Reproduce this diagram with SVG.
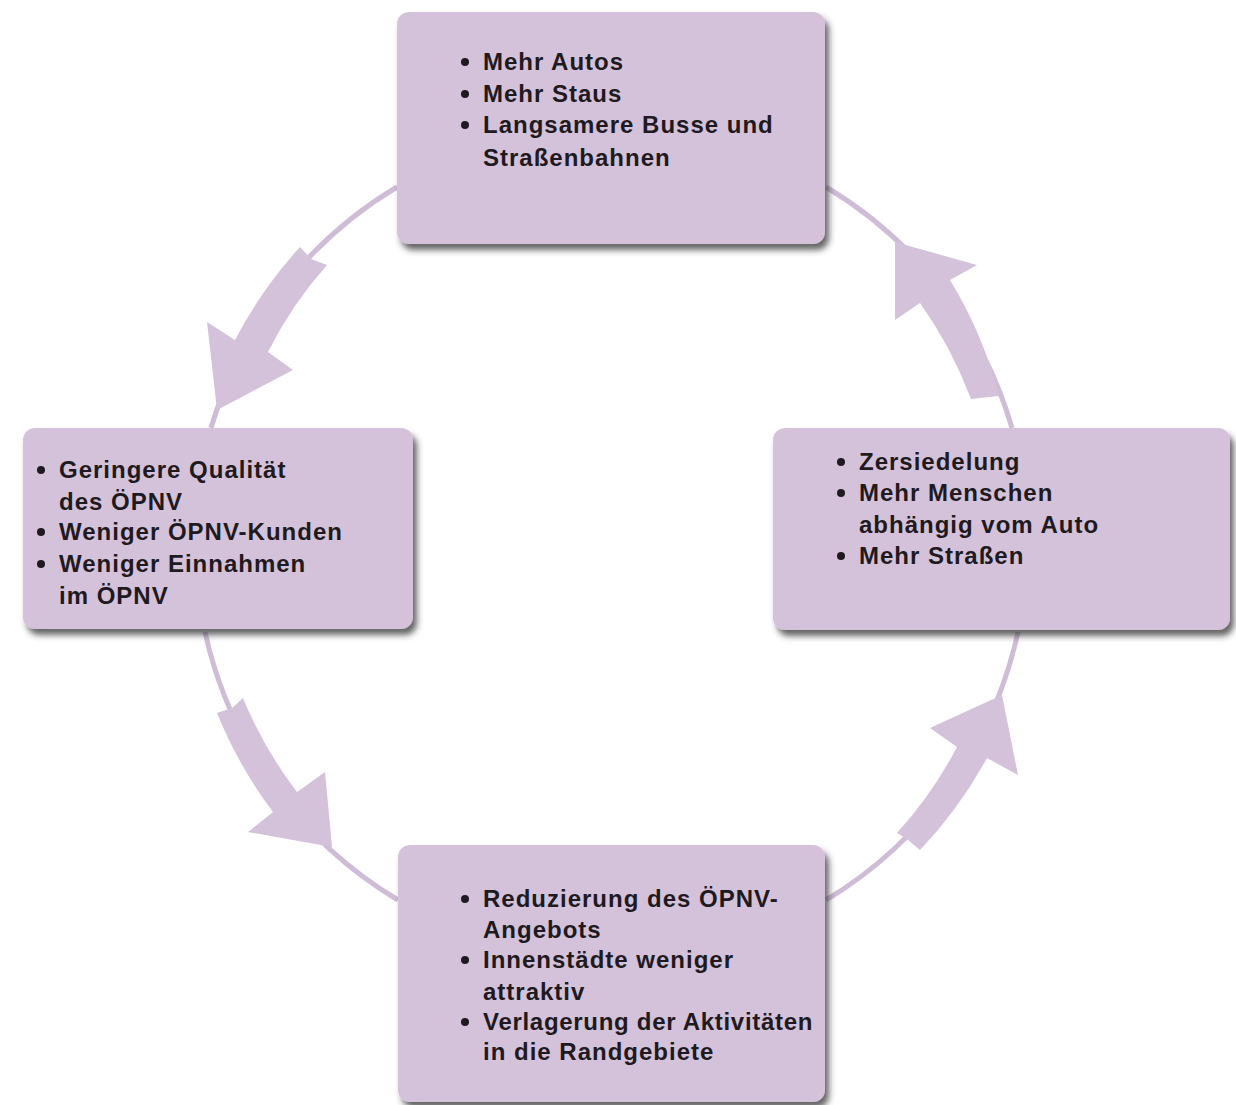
<svg xmlns="http://www.w3.org/2000/svg" width="1236" height="1105" viewBox="0 0 1236 1105">
<style>
.box{fill:#d4c2da;filter:url(#sh)}
.t{font-family:"Liberation Sans",Arial,sans-serif;font-weight:bold;font-size:24px;letter-spacing:1px;fill:#1e1a20}
.b{fill:#1e1a20}
.ln{fill:none;stroke:#cfbcd6;stroke-width:5}
.ar{fill:#d4c2da}
</style>
<defs>
<filter id="sh" x="-10%" y="-10%" width="125%" height="130%">
<feDropShadow dx="4" dy="6" stdDeviation="3" flood-color="#333333" flood-opacity="0.75"/>
</filter>
</defs>
<rect width="1236" height="1105" fill="#ffffff"/>
<g id="connectors">
<path class="ln" d="M 397,187 A 416 416 0 0 0 211,428"/>
<path class="ln" d="M 1012,428 A 416 416 0 0 0 826,187"/>
<path class="ln" d="M 205,632 A 416 416 0 0 0 398,900"/>
<path class="ln" d="M 826,900 A 416 416 0 0 0 1018,632"/>
<path class="ar" d="M 300,247 Q 261.5,289.2 235,340 L 207,322 L 217,410 L 293,370 L 268,352 Q 291.9,304.3 327,265 L 311,259 Z"/>
<path class="ar" d="M 971,399 Q 951,346.3 920,303 L 895,320 L 895,242 L 977,265 L 950,280 Q 983,333.8 999,396 Z"/>
<path class="ar" d="M 217,713 Q 238.6,766.3 273,812 L 248,832 L 332,847 L 325,772 L 297,792 Q 263.8,748.7 243,698 L 232,708 Z"/>
<path class="ar" d="M 897,833 Q 932.3,794.2 957,747 L 930,728 L 1002,695 L 1018,775 L 987,758 Q 959.4,808.6 920,850 L 907,839 Z"/>
</g>
<g id="node-top">
<rect class="box" x="397" y="12" width="428" height="232" rx="12"/>
<circle class="b" cx="465" cy="62" r="4"/>
<circle class="b" cx="465" cy="94" r="4"/>
<circle class="b" cx="465" cy="125" r="4"/>
<text class="t" x="483" y="70">Mehr Autos</text>
<text class="t" x="483" y="102">Mehr Staus</text>
<text class="t" x="483" y="133">Langsamere Busse und</text>
<text class="t" x="483" y="166">Straßenbahnen</text>
</g>
<g id="node-left">
<rect class="box" x="23" y="428" width="390" height="201" rx="12"/>
<circle class="b" cx="41" cy="470" r="4"/>
<circle class="b" cx="41" cy="532" r="4"/>
<circle class="b" cx="41" cy="564" r="4"/>
<text class="t" x="59" y="478">Geringere Qualität</text>
<text class="t" x="59" y="510">des ÖPNV</text>
<text class="t" x="59" y="540">Weniger ÖPNV-Kunden</text>
<text class="t" x="59" y="572">Weniger Einnahmen</text>
<text class="t" x="59" y="604">im ÖPNV</text>
</g>
<g id="node-right">
<rect class="box" x="773" y="428" width="457" height="202" rx="12"/>
<circle class="b" cx="841" cy="462" r="4"/>
<circle class="b" cx="841" cy="493" r="4"/>
<circle class="b" cx="841" cy="556" r="4"/>
<text class="t" x="859" y="470">Zersiedelung</text>
<text class="t" x="859" y="501">Mehr Menschen</text>
<text class="t" x="859" y="533">abhängig vom Auto</text>
<text class="t" x="859" y="564">Mehr Straßen</text>
</g>
<g id="node-bottom">
<rect class="box" x="398" y="845" width="427" height="257" rx="12"/>
<circle class="b" cx="465" cy="899" r="4"/>
<circle class="b" cx="465" cy="960" r="4"/>
<circle class="b" cx="465" cy="1022" r="4"/>
<text class="t" x="483" y="907">Reduzierung des ÖPNV-</text>
<text class="t" x="483" y="938">Angebots</text>
<text class="t" x="483" y="968">Innenstädte weniger</text>
<text class="t" x="483" y="1000">attraktiv</text>
<text class="t" x="483" y="1030" style="letter-spacing:0.7px">Verlagerung der Aktivitäten</text>
<text class="t" x="483" y="1060">in die Randgebiete</text>
</g>
</svg>
